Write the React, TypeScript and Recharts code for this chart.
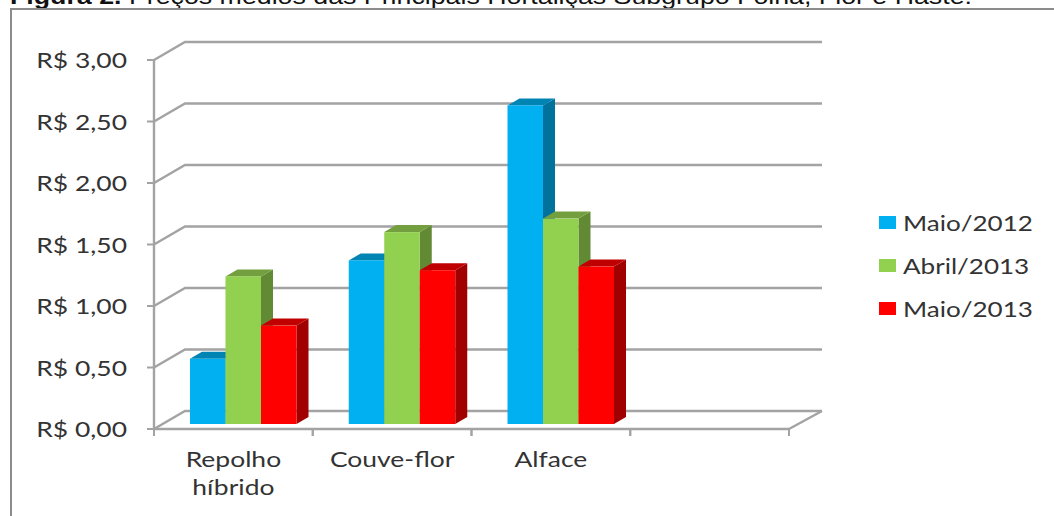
import { Bar, CartesianGrid, ComposedChart, Legend, XAxis, YAxis } from 'recharts'

const categories = ['Repolho híbrido', 'Couve-flor', 'Alface', '']
const maio2012 = [0.53, 1.33, 2.59, null]
const abril2013 = [1.2, 1.56, 1.67, null]
const maio2013 = [0.8, 1.25, 1.28, null]
const yTicks = [0, 0.5, 1, 1.5, 2, 2.5, 3]

const seriesInfo = [
  { key: 'maio2012', name: 'Maio/2012', front: '#00b0f0', top: '#0084b4', side: '#00729c' },
  { key: 'abril2013', name: 'Abril/2013', front: '#92d050', top: '#739f3e', side: '#628a35' },
  { key: 'maio2013', name: 'Maio/2013', front: '#ff0000', top: '#c00000', side: '#a00000' },
]

const chartData = categories.map((name, i) => ({
  name,
  maio2012: maio2012[i],
  abril2013: abril2013[i],
  maio2013: maio2013[i],
}))

const FONT = 'Lato, sans-serif'
const TEXT = '#333333'
const AXIS = '#a3a3a3'
const WALL_X = 31
const WALL_Y = 18
// the source picture was stretched sideways, so the labels are too
const STRETCH = 1.26

// fake 3d column, bars sit a little inside the floor
// recharts rounds the bar width down, order puts the half pixel back
function Column3D(props: any) {
  const { x, y, width, height, front, top, side, order } = props
  if (!height) return null
  const left = x + 9.6 + order * 0.5
  const right = left + width + 0.5
  const upper = y - 5
  const lower = upper + height
  const dx = 12
  const dy = 7
  return (
    <g>
      <polygon points={`${right},${upper} ${right + dx},${upper - dy} ${right + dx},${lower - dy} ${right},${lower}`} fill={side} />
      <polygon points={`${left},${upper} ${left + dx},${upper - dy} ${right + dx},${upper - dy} ${right},${upper}`} fill={top} />
      <rect x={left} y={upper} width={right - left} height={height} fill={front} />
    </g>
  )
}

function WallLine(props: any) {
  const { x1, x2, y1 } = props
  return (
    <g fill="none" stroke={AXIS} strokeWidth={2.4}>
      <polyline points={`${x1},${y1} ${x1 + WALL_X},${y1 - WALL_Y} ${x2 + 33},${y1 - WALL_Y}`} />
      {y1 > 420 && <line x1={x2} y1={y1} x2={x2 + 33} y2={y1 - WALL_Y} />}
    </g>
  )
}

// tick marks go between the categories, not under them
function CategoryTick(props: any) {
  const { x, y, payload, width, visibleTicksCount } = props
  const band = width / visibleTicksCount
  const words = String(payload.value).split(' ')
  return (
    <g>
      <line x1={x - band / 2} x2={x - band / 2} y1={y - 9} y2={y - 2} stroke={AXIS} strokeWidth={2} />
      <line x1={x + band / 2} x2={x + band / 2} y1={y - 9} y2={y - 2} stroke={AXIS} strokeWidth={2} />
      <text
        transform={`translate(${x},${y + 29}) scale(${STRETCH},1)`}
        textAnchor="middle"
        fontFamily={FONT}
        fontSize={21}
        fill={TEXT}
      >
        {words.map((w, i) => (
          <tspan key={w} x={0} dy={i === 0 ? 0 : 28}>{w}</tspan>
        ))}
      </text>
    </g>
  )
}

function ValueTick(props: any) {
  const { x, y, payload } = props
  const label = `R$ ${payload.value.toFixed(2).replace('.', ',')}`
  return (
    <text
      transform={`translate(${x},${y + 8}) scale(${STRETCH},1)`}
      textAnchor="end"
      fontFamily={FONT}
      fontSize={21}
      fill={TEXT}
    >
      {label}
    </text>
  )
}

function LegendBox() {
  return (
    <div style={{ fontFamily: FONT, fontSize: 21, color: TEXT }}>
      {seriesInfo.map((s) => (
        <div key={s.key} style={{ display: 'flex', alignItems: 'center', height: 43 }}>
          <span style={{ width: 17, height: 13, background: s.front, marginRight: 7 }} />
          <span style={{ display: 'inline-block', transform: 'scaleX(1.24)', transformOrigin: 'left center' }}>{s.name}</span>
        </div>
      ))}
    </div>
  )
}

export default function App() {
  return (
    <div style={{ position: 'absolute', left: 0, top: 0, width: 1054, height: 516, overflow: 'hidden', background: '#fff' }}>
      <div
        style={{
          position: 'absolute', left: 10, top: -16, whiteSpace: 'nowrap',
          fontFamily: 'Liberation Sans, sans-serif', fontSize: 22, color: '#111',
          transform: 'scaleX(1.216)', transformOrigin: 'left top',
        }}
      >
        <b>Figura 2.</b> Preços médios das Principais Hortaliças Subgrupo Folha, Flor e Haste.
      </div>
      <div
        style={{
          position: 'absolute', left: 10, top: 8, width: 1100, height: 600,
          borderLeft: '2px solid #8c8c8c', borderTop: '2px solid #8c8c8c',
        }}
      />
      <div style={{ position: 'absolute', left: 0, top: 0 }}>
        <ComposedChart
          width={1054}
          height={516}
          data={chartData}
          barCategoryGap={26.4}
          barGap={0}
          margin={{ top: 60, right: 95, bottom: 0, left: 0 }}
        >
          <CartesianGrid vertical={false} horizontal={(p: any) => <WallLine key={p.key} {...p} />} />
          <XAxis
            dataKey="name"
            height={87}
            interval={0}
            tick={<CategoryTick />}
            tickSize={7}
            axisLine={{ stroke: AXIS, strokeWidth: 2.5 }}
            tickLine={false}
          />
          <YAxis
            width={154}
            domain={[0, 3]}
            ticks={yTicks}
            tick={<ValueTick />}
            tickSize={7}
            tickMargin={20}
            axisLine={{ stroke: AXIS, strokeWidth: 2.4 }}
            tickLine={{ stroke: AXIS, strokeWidth: 2 }}
          />
          {seriesInfo.map((s, i) => (
            <Bar
              key={s.key}
              dataKey={s.key}
              name={s.name}
              isAnimationActive={false}
              fill={s.front}
              shape={(p: any) => <Column3D {...p} order={i} front={s.front} top={s.top} side={s.side} />}
            />
          ))}
          <Legend
            layout="vertical"
            align="right"
            verticalAlign="middle"
            content={<LegendBox />}
            wrapperStyle={{ position: 'absolute', left: 879, top: 201, width: 170, bottom: 'auto', right: 'auto' }}
          />
        </ComposedChart>
      </div>
    </div>
  )
}
